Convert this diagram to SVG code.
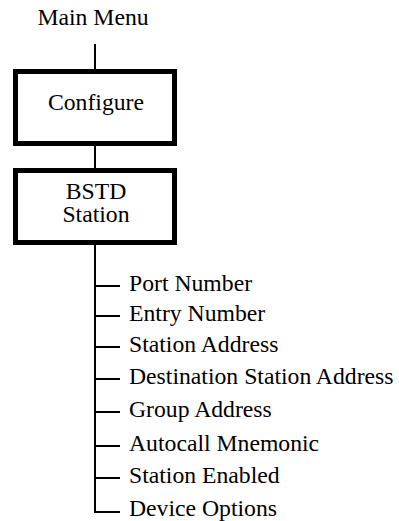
<svg xmlns="http://www.w3.org/2000/svg" width="399" height="521" viewBox="0 0 399 521">
<style>
text{font-family:'Liberation Serif','Times New Roman',Times,serif;font-size:23.7px;fill:#000}
.box{fill:#fff;stroke:#000;stroke-width:5}
.ln{stroke:#000;stroke-width:2;fill:none}
</style>
<rect width="399" height="521" fill="#fff"/>
<g id="connectors">
<line class="ln" x1="95" y1="44" x2="95" y2="70"/>
<line class="ln" x1="95" y1="145" x2="95" y2="169"/>
<path class="ln" d="M95,244 V512 H120"/>
<line class="ln" x1="95" y1="286" x2="120" y2="286"/>
<line class="ln" x1="95" y1="316" x2="120" y2="316"/>
<line class="ln" x1="95" y1="347" x2="120" y2="347"/>
<line class="ln" x1="95" y1="379" x2="120" y2="379"/>
<line class="ln" x1="95" y1="412" x2="120" y2="412"/>
<line class="ln" x1="95" y1="446" x2="120" y2="446"/>
<line class="ln" x1="95" y1="478" x2="120" y2="478"/>
</g>
<g id="main-menu"><text x="93" y="25" text-anchor="middle">Main Menu</text></g>
<g id="configure">
<rect class="box" x="15.5" y="71.5" width="159" height="72"/>
<text x="96" y="110" text-anchor="middle">Configure</text>
</g>
<g id="bstd-station">
<rect class="box" x="15.5" y="170.5" width="159" height="72"/>
<text x="96" y="199" text-anchor="middle">BSTD</text>
<text x="96" y="222" text-anchor="middle">Station</text>
</g>
<g id="port-number"><text x="129" y="291">Port Number</text></g>
<g id="entry-number"><text x="129" y="321">Entry Number</text></g>
<g id="station-address"><text x="129" y="352">Station Address</text></g>
<g id="destination-station-address"><text x="129" y="384">Destination Station Address</text></g>
<g id="group-address"><text x="129" y="417">Group Address</text></g>
<g id="autocall-mnemonic"><text x="129" y="451">Autocall Mnemonic</text></g>
<g id="station-enabled"><text x="129" y="483">Station Enabled</text></g>
<g id="device-options"><text x="129" y="516">Device Options</text></g>
</svg>
